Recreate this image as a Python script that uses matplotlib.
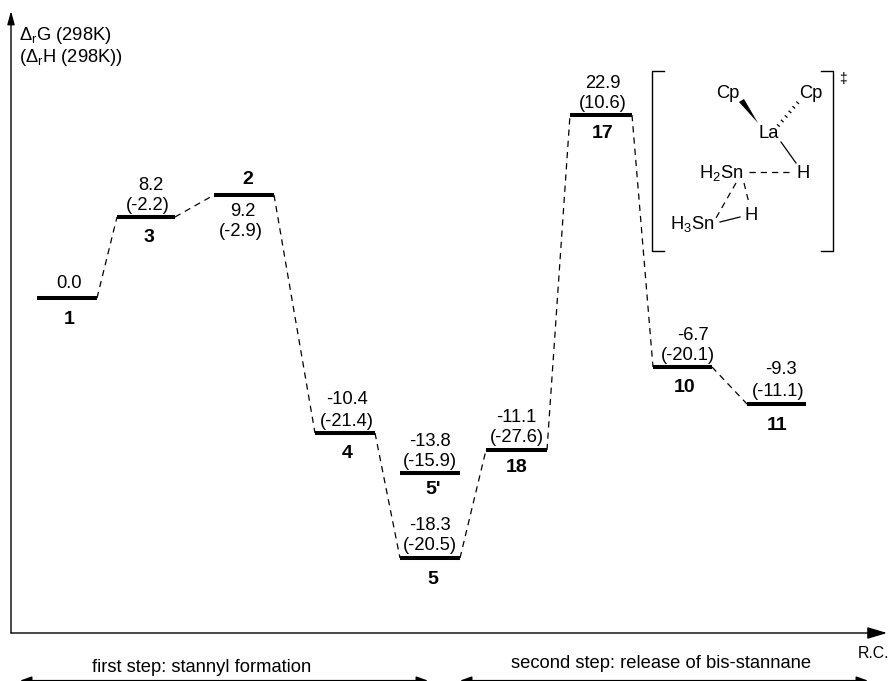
import matplotlib
matplotlib.use("Agg")
import matplotlib.pyplot as plt
from matplotlib.patches import Polygon

plt.rcParams["font.family"] = ["Liberation Sans", "DejaVu Sans"]
plt.rcParams["mathtext.fontset"] = "custom"
plt.rcParams["mathtext.rm"] = "Liberation Sans"
plt.rcParams["mathtext.it"] = "Liberation Sans"
plt.rcParams["mathtext.bf"] = "Liberation Sans:bold"
plt.rcParams["mathtext.default"] = "regular"

# level diagram is not to scale in the source, so heights are read in pixels
names = ["1", "3", "2", "4", "5'", "5", "18", "17", "10", "11"]
x_start = [37, 117, 214, 315, 400, 400, 486, 570, 653, 747]
x_end = [97, 175, 274, 375, 460, 460, 547, 632, 712, 806]
level_y = [298, 217, 195, 433, 473, 558, 450, 115, 367, 404]
dG = ["0.0", "8.2", "9.2", "-10.4", "-13.8", "-18.3", "-11.1", "22.9", "-6.7", "-9.3"]
dH = [None, "(-2.2)", "(-2.9)", "(-21.4)", "(-15.9)", "(-20.5)", "(-27.6)", "(10.6)", "(-20.1)", "(-11.1)"]
# reaction path order, as indices into the lists above (5' has no connector)
path = [0, 1, 2, 3, 5, 6, 7, 8, 9]

# label centres
g_xy = [(69, 284), (151, 185), (243, 212), (347, 400), (430, 442), (430, 525), (516, 417), (603, 83), (693, 335), (781, 370)]
h_xy = [None, (148, 205), (241, 232), (347, 421), (430, 462), (430, 545), (517, 437), (603, 103), (688, 355), (778, 391)]
n_xy = [(69, 319), (149, 237), (248, 179), (347, 453), (433, 490), (433, 579), (517, 468), (603, 133), (685, 388), (777, 425)]

FS = 13.2
fig = plt.figure(figsize=(8.91, 6.81), dpi=100, facecolor="white")
ax = fig.add_axes([0, 0, 1, 1])
ax.set_xlim(0, 891)
ax.set_ylim(681, 0)
ax.axis("off")


def arrow(x0, y0, x1, y1, style="-|>", hl=0.8, hw=0.22, lw=1.0, color="black"):
    ax.annotate("", xy=(x1, y1), xytext=(x0, y0),
                arrowprops=dict(arrowstyle=f"{style},head_length={hl},head_width={hw}",
                                color=color, lw=lw, shrinkA=0, shrinkB=0))


# axes
arrow(11, 633, 11, 11)
arrow(11, 633, 887, 633, hl=1.2, hw=0.36)

# connectors
for a, b in zip(path[:-1], path[1:]):
    ax.plot([x_end[a], x_start[b]], [level_y[a], level_y[b]], color="black",
            lw=0.9, dashes=(5, 4))

# levels
for i in range(len(names)):
    ax.plot([x_start[i], x_end[i]], [level_y[i], level_y[i]], color="black", lw=2.9,
            solid_capstyle="butt", zorder=3)

# labels
for i, name in enumerate(names):
    ax.text(*g_xy[i], dG[i], ha="center", va="center", fontsize=FS)
    if dH[i] is not None:
        ax.text(*h_xy[i], dH[i], ha="center", va="center", fontsize=FS)
    ax.text(*n_xy[i], name, ha="center", va="center", fontsize=14, fontweight="bold")

# axis captions
ax.text(19, 35, "Δ$_r$G (298K)", ha="left", va="center", fontsize=FS)
ax.text(19, 58, "(Δ$_r$H (298K))", ha="left", va="center", fontsize=FS)
ax.text(858, 653, "R.C.", ha="left", va="center", fontsize=11.4)
ax.text(92, 668, "first step: stannyl formation", ha="left", va="center", fontsize=FS)
ax.text(511, 663, "second step: release of bis-stannane", ha="left", va="center", fontsize=FS)
arrow(20, 680.6, 428, 680.6, style="<|-|>", hl=0.7, hw=0.25)
arrow(460, 680.6, 868, 680.6, style="<|-|>", hl=0.7, hw=0.25)

# transition state sketch
ax.plot([664, 652, 652, 664], [71, 71, 251, 251], color="black", lw=1.0)
ax.plot([821, 833, 833, 821], [71, 71, 251, 251], color="black", lw=1.0)
ax.text(843, 79, "‡", ha="center", va="center", fontsize=10)
ax.text(716, 94, "Cp", ha="left", va="center", fontsize=FS)
ax.text(799, 94, "Cp", ha="left", va="center", fontsize=FS)
ax.text(759, 133, "La", ha="left", va="center", fontsize=FS)
ax.text(699, 173, "H$_2$Sn", ha="left", va="center", fontsize=FS)
ax.text(796, 173, "H", ha="left", va="center", fontsize=FS)
ax.text(670, 224, "H$_3$Sn", ha="left", va="center", fontsize=FS)
ax.text(744, 215, "H", ha="left", va="center", fontsize=FS)
ax.add_patch(Polygon([(758, 123), (739, 102), (744, 99)], closed=True, color="black", lw=0))
ax.plot([781, 796], [142, 163], color="black", lw=0.9)
ax.plot([720, 740], [222, 217], color="black", lw=0.9)
for seg in [([749, 793], [172, 172]), ([736, 716], [183, 218]), ([744, 749], [183, 203])]:
    ax.plot(seg[0], seg[1], color="black", lw=0.9, dashes=(5, 4))
ax.plot([778, 800], [126, 100], color="black", lw=2.6, dashes=(0.35, 1.3), dash_capstyle="butt")

fig.savefig("out.png", dpi=100, facecolor="white")
